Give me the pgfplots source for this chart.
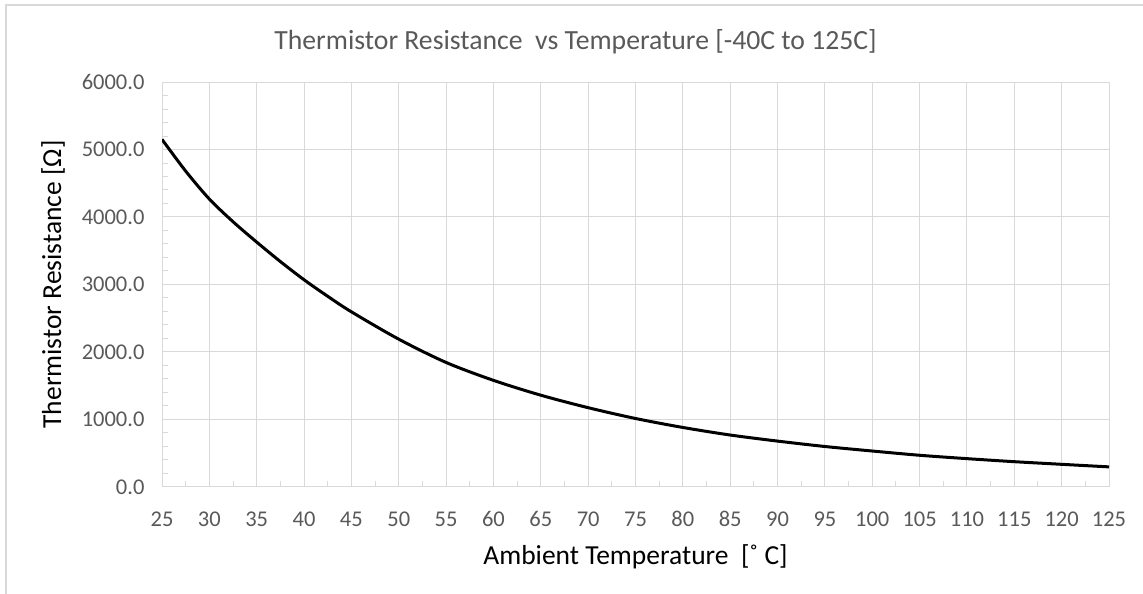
\documentclass[border=0pt]{standalone}
\usepackage{fontspec}
\setmainfont{Carlito}
\usepackage{pgfplots}
\pgfplotsset{compat=1.18}
\definecolor{gridc}{HTML}{D9D9D9}
\definecolor{txt}{HTML}{595959}
\begin{document}
\begin{tikzpicture}[x=1pt,y=1pt]
\useasboundingbox (0,0) rectangle (1143,594);
\draw[gridc, line width=1.5pt] (6,0) -- (6,589) -- (1143,589);
\node[text=txt, font=\fontsize{27.7}{32}\selectfont] at (575.5,552) {Thermistor Resistance\ \ vs Temperature [-40C to 125C]};
\begin{axis}[
  at={(162pt,107pt)}, anchor=south west,
  scale only axis, width=947pt, height=405pt,
  xmin=25, xmax=125, ymin=0, ymax=6000,
  xtick={25,30,...,125}, minor x tick num=1,
  ytick={0,1000,...,6000}, minor y tick num=4,
  grid=major, major grid style={gridc, line width=1pt},
  axis line style={gridc, line width=1pt},
  tick pos=left, tick align=inside,
  major tick length=0pt, minor tick length=6pt,
  minor tick style={gridc, line width=1pt},
  /pgf/number format/assume math mode=true,
  yticklabel style={/pgf/number format/fixed, /pgf/number format/fixed zerofill, /pgf/number format/precision=1, /pgf/number format/1000 sep={}, anchor=east, xshift=-14pt},
  ticklabel style={text=txt, font=\fontsize{22.5}{26}\selectfont},
  xticklabel style={anchor=base, yshift=-40pt},
  xlabel={Ambient Temperature\ \ [˚ C]},
  ylabel={Thermistor Resistance [Ω]},
  label style={text=black, font=\fontsize{27.5}{32}\selectfont},
  xlabel style={at={(rel axis cs:0.5,0)}, anchor=center, yshift=-70pt},
  ylabel style={at={(axis description cs:-0.115,0.5)}, anchor=center},
]
\addplot[black, line width=3pt, smooth] coordinates {
(25,5150) (27.5,4680) (30,4266) (32.5,3930) (35,3628) (37.5,3340) (40,3070)
(42.5,2825) (45,2595) (50,2190) (55,1845)
(60,1580) (65,1360) (70,1175) (75,1015) (80,882) (85,770) (90,680)
(95,600) (100,533) (105,470) (110,420) (115,375) (120,336) (125,298)
};
\end{axis}
\end{tikzpicture}
\end{document}
